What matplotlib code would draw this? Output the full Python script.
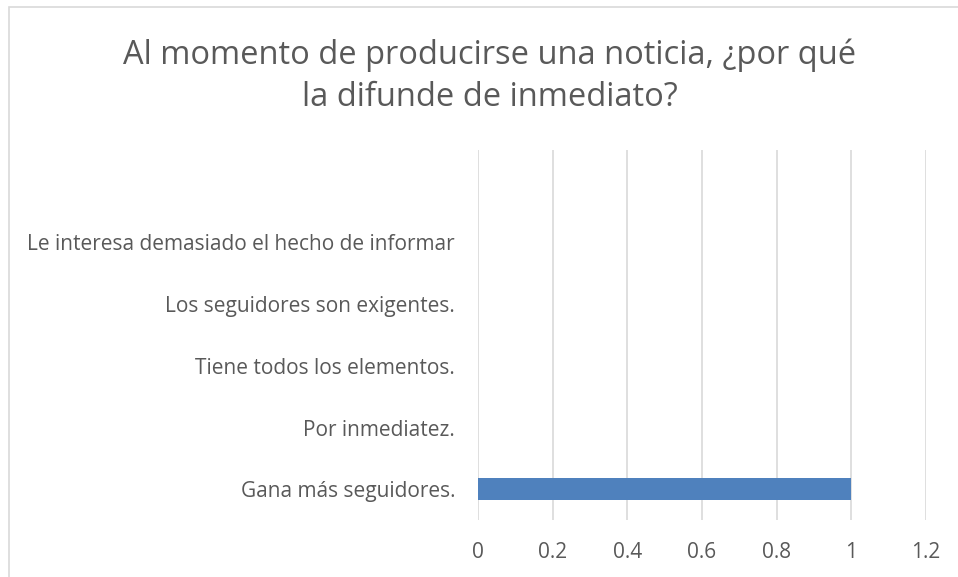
import matplotlib.pyplot as plt
from matplotlib.patches import Rectangle

plt.rcParams['font.family'] = ['Open Sans', 'DejaVu Sans']

# data
categories = ['Gana más seguidores.', 'Por inmediatez.', 'Tiene todos los elementos.',
              'Los seguidores son exigentes.', 'Le interesa demasiado el hecho de informar', '']
values = [1, 0, 0, 0, 0, 0]
xticks = [0, 0.2, 0.4, 0.6, 0.8, 1, 1.2]
xtick_labels = ['0', '0.2', '0.4', '0.6', '0.8', '1', '1.2']
title = 'Al momento de producirse una noticia, ¿por qué\nla difunde de inmediato?'

text_color = '#595959'
grid_color = '#d9d9d9'
bar_color = '#4f81bd'

fig = plt.figure(figsize=(9.58, 5.77), dpi=100)
ax = fig.add_axes([478 / 958, 1 - 520 / 577, 448 / 958, 370 / 577])

# chart border
fig.patches.append(Rectangle((9 / 958, -0.1), 1.1, 1 - 7 / 577 + 0.1, transform=fig.transFigure,
                             fill=False, edgecolor=grid_color, linewidth=1.2))

ypos = list(range(len(categories)))
ax.barh(ypos, values, height=0.36, color=bar_color, zorder=3)

ax.set_xlim(0, 1.2)
ax.set_ylim(-0.5, len(categories) - 0.5)
ax.set_xticks(xticks)
ax.set_xticklabels(xtick_labels)
ax.set_yticks(ypos)
ax.set_yticklabels(categories)
ax.tick_params(axis='both', length=0, labelsize=15, colors=text_color)
ax.tick_params(axis='y', pad=16.5)
ax.tick_params(axis='x', pad=16)
ax.xaxis.grid(True, color=grid_color, linewidth=1.2, zorder=0)
for s in ax.spines.values():
    s.set_visible(False)

fig.text(490 / 958, 1 - 76 / 577, title, ha='center', va='center', fontsize=23.5,
         color=text_color, linespacing=1.36)

fig.savefig('out.png', dpi=100)
